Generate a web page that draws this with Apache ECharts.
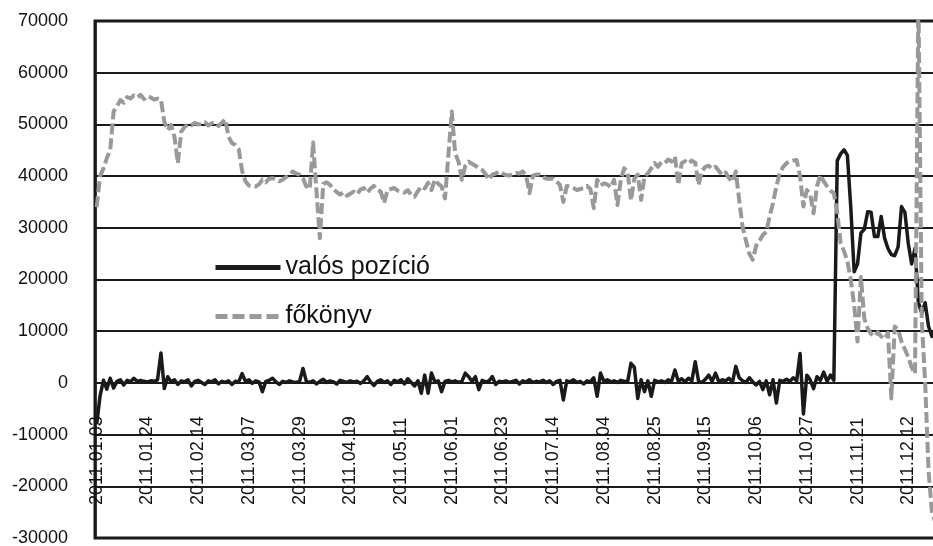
<!DOCTYPE html>
<html>
<head>
<meta charset="utf-8">
<script src="https://cdn.jsdelivr.net/npm/echarts@6/dist/echarts.min.js"></script>
<style>
html,body{margin:0;padding:0;background:#fff;}
#chart{width:933px;height:546px;}
</style>
</head>
<body>
<div id="chart"></div>
<script>
// Trading days of 2011 (Hungarian calendar) used as categories
const startDate = '2011-01-03';
const pointCount = 249;
const holidays = ['2011-03-15','2011-04-25','2011-06-13','2011-10-31','2011-11-01','2011-12-26'];

const yTicks = { min: -30000, max: 70000, step: 10000 };

const seriesNames = ['valós pozíció', 'főkönyv'];

const valosPozicio = [
  -8000, -2500, 500, -1200, 900, -1000, 300, 600, -400, 500,
  200, 900, 300, 500, 300, 200, 400, 300, 600, 5800,
  -1100, 1200, 200, 600, -300, 400, 200, 600, -600, 300,
  500, 100, -300, 400, 200, 600, -200, 300, 100, 400,
  -300, 300, 200, 1800, 300, 600, -100, 400, 200, -1700,
  300, 500, 900, 200, -300, 300, 100, 400, 200, 100,
  300, 2800, 300, 100, 400, -200, 300, 700, 100, 400,
  200, -200, 500, 300, 100, 400, 200, 300, -100, 400,
  1200, 200, -500, 300, 600, 100, 400, -300, 500, 200,
  600, -200, 800, 100, -600, 400, -2000, 1500, -2000, 1900,
  200, 400, -1700, 300, 500, 200, 400, 100, 300, 1900,
  1200, 300, 1200, -1300, 500, 200, 400, 1200, -300, 300,
  200, 400, 100, 300, 500, -200, 400, 200, 600, 100,
  300, 200, 500, 100, 400, -300, 300, 500, -3300, 400,
  200, 600, 100, 300, -200, 400, 200, 1000, -2600, 1900,
  300, 600, 200, 400, 100, 500, 300, 200, 3800, 3000,
  -3000, 600, -1700, 400, -2600, 500, 200, 400, 100, 600,
  300, 2500, 300, 800, 200, 900, 400, 4100, 300, 100,
  700, 1500, 300, 1900, 200, 600, 400, 900, 100, 3200,
  1000, 400, 100, 1000, 200, -400, 300, -1300, 400, -2300,
  600, -3900, 500, 300, 700, 300, 1000, 400, 5700, -6000,
  1500, 600, -1100, 1200, 500, 2100, 300, 1500, 500, 43000,
  44300, 45100, 44000, 34000, 21500, 23000, 29000, 29700, 33100, 33000,
  28300, 28300, 32200, 28000, 26000, 24800, 24600, 26300, 34100, 33000,
  27000, 23000, 26000, 15500, 13500, 15500, 10900, 9000, 10500
];

const fokonyv = [
  34000, 40000, 41500, 43500, 45000, 52500, 53500, 54700, 54200, 55300,
  55000, 55600, 55200, 55700, 54900, 55500, 55200, 54800, 55000, 54800,
  50500, 48900, 49900, 47600, 42500, 48600, 49500, 50000, 49800, 50300,
  50000, 50100, 50400, 49800, 50200, 50400, 49700, 50300, 51000, 47600,
  46400, 46000, 45200, 41000, 39000, 38200, 38100, 38000, 38400, 39300,
  38800, 39500, 39600, 39400, 39000, 39300, 39800, 40200, 40900, 40500,
  40300, 39600, 38000, 37500, 46500, 37000, 28000, 38500, 38800, 38300,
  37500, 36900, 36400, 36900, 36200, 36600, 37000, 36500, 37400, 37700,
  36800, 37600, 38100, 37300, 37000, 34800, 37300, 37500, 37700, 37200,
  37000, 36800, 37300, 36400, 36000, 37100, 38000, 37600, 38700, 37300,
  39300, 38500, 38000, 35700, 44000, 52500, 44500, 42800, 39300, 42000,
  42800, 42400, 42000, 41600, 41200, 40400, 39300, 40300, 40500, 40900,
  40500, 40200, 40100, 40400, 40600, 40500, 40900, 40100, 36700, 40100,
  40300, 40300, 39800, 39500, 39500, 39500, 39000, 38300, 35000, 38100,
  38000, 37700, 37300, 37500, 37700, 38100, 37500, 33800, 39300, 38200,
  38600, 38400, 37800, 39300, 34400, 39300, 41500, 40800, 35300, 39500,
  40300, 35400, 40000, 40500, 41500, 42500, 41800, 42700, 42500, 43200,
  42800, 43800, 38300, 42500, 42900, 42400, 43000, 42600, 38300, 41000,
  41800, 42000, 41400, 41800, 41000, 40200, 40700, 39600, 38900, 40900,
  35400, 30200, 27500, 25000, 23800, 26500, 27500, 28600, 29200, 32200,
  34800, 38000, 40600, 41800, 42500, 42800, 43000, 43100, 40000, 34100,
  37300, 36500, 32800, 38000, 40200, 39000, 38000, 37200, 36700, 33000,
  27000, 25500, 23500, 20000, 15000, 8000, 20500, 12500, 10500, 9500,
  9000, 9800, 9000, 8500, 9700, -3000, 10900, 10300, 8000, 6500,
  5000, 3000, 1800, 75000, 12000, 0, -17000, -25000, -27000
];

function pad(n){ return (n < 10 ? '0' : '') + n; }
function buildCategories(){
  const out = [];
  const d = new Date(startDate + 'T12:00:00Z');
  while (out.length < pointCount) {
    const wd = d.getUTCDay();
    const iso = d.getUTCFullYear() + '-' + pad(d.getUTCMonth()+1) + '-' + pad(d.getUTCDate());
    if (wd !== 0 && wd !== 6 && holidays.indexOf(iso) < 0) {
      out.push(d.getUTCFullYear() + '.' + pad(d.getUTCMonth()+1) + '.' + pad(d.getUTCDate()));
    }
    d.setUTCDate(d.getUTCDate() + 1);
  }
  return out;
}
const categories = buildCategories();

const FONT = '"Liberation Sans", Arial, sans-serif';
const hiddenMarker = { color: 'rgba(0,0,0,0)', borderColor: 'rgba(0,0,0,0)', borderWidth: 0, opacity: 0 };
const chart = echarts.init(document.getElementById('chart'), null, {renderer: 'canvas'});
chart.setOption({
  backgroundColor: '#ffffff',
  animation: false,
  grid: {
    left: 95, right: -4, top: 21, bottom: 8,
    containLabel: false,
    outerBoundsMode: 'none',
    show: true, borderColor: '#1a1a1a', borderWidth: 3, backgroundColor: 'transparent'
  },
  legend: {
    orient: 'vertical',
    left: 213, top: 255,
    padding: 0,
    itemWidth: 65, itemHeight: 4, itemGap: 24,
    itemStyle: hiddenMarker,
    textStyle: { fontFamily: FONT, fontSize: 25, color: '#111111', lineHeight: 24 },
    data: [
      { name: seriesNames[0], itemStyle: hiddenMarker, lineStyle: { color: '#1a1a1a', width: 5, type: 'solid' } },
      { name: seriesNames[1], itemStyle: hiddenMarker, lineStyle: { color: '#9a9a9a', width: 5, type: [12, 5] } }
    ]
  },
  xAxis: {
    type: 'category',
    data: categories,
    boundaryGap: true,
    axisLine: { show: false },
    axisTick: { show: false },
    axisLabel: {
      interval: 14, rotate: 90, margin: 33, inside: true,
      fontFamily: FONT, fontSize: 18, color: '#111111'
    },
    splitLine: { show: false }
  },
  yAxis: {
    type: 'value',
    min: yTicks.min, max: yTicks.max, interval: yTicks.step,
    axisLine: { show: true, lineStyle: { color: '#1a1a1a', width: 2.5 } },
    axisTick: { show: false },
    axisLabel: {
      margin: 27, fontFamily: FONT, fontSize: 18, color: '#111111',
      formatter: v => String(v)
    },
    splitLine: { show: true, lineStyle: { color: '#1a1a1a', width: 2 } }
  },
  series: [
    {
      name: seriesNames[0], type: 'line', data: valosPozicio,
      symbol: 'none', showSymbol: false, clip: true,
      lineStyle: { color: '#1a1a1a', width: 3.5, join: 'round' },
      itemStyle: { color: '#1a1a1a' },
      z: 2
    },
    {
      name: seriesNames[1], type: 'line', data: fokonyv,
      symbol: 'none', showSymbol: false, clip: true,
      lineStyle: { color: '#999999', width: 4, type: [11, 4], join: 'round' },
      itemStyle: { color: '#999999' },
      z: 3
    }
  ]
});
</script>
</body>
</html>
